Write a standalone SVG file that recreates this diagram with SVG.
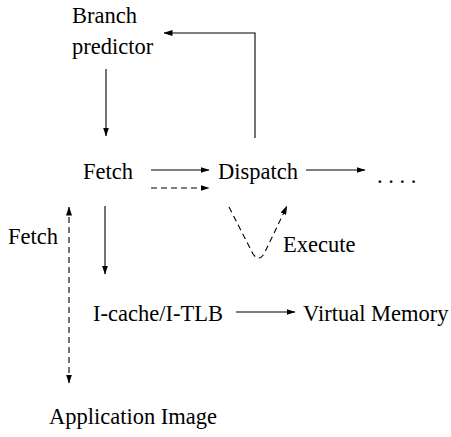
<svg xmlns="http://www.w3.org/2000/svg" width="451" height="437" viewBox="0 0 451 437">
<style>
text{font-family:"Liberation Serif","Times New Roman",serif;font-size:22.5px;fill:#000}
.c{fill:none;stroke:#000;stroke-width:1.1}
.d{stroke-dasharray:6,4}
</style>
<defs>
<marker id="ah" markerWidth="9" markerHeight="6" refX="8.5" refY="3" orient="auto" markerUnits="userSpaceOnUse">
<path d="M0,0 L9,3 L0,6 Z" fill="#000"/>
</marker>
<marker id="ahs" markerWidth="9" markerHeight="6" refX="8.5" refY="3" orient="auto-start-reverse" markerUnits="userSpaceOnUse">
<path d="M0,0 L9,3 L0,6 Z" fill="#000"/>
</marker>
</defs>
<rect width="451" height="437" fill="#fff"/>
<g id="branch"><text x="72" y="23">Branch</text><text x="72" y="54">predictor</text></g>
<g id="fetch"><text x="83" y="179">Fetch</text></g>
<g id="dispatch"><text x="218" y="179">Dispatch</text></g>
<g id="dots"><text x="377" y="183">. . . .</text></g>
<g id="fetchlabel"><text x="8" y="244">Fetch</text></g>
<g id="execute"><text x="283" y="252">Execute</text></g>
<g id="icache"><text x="93" y="321">I-cache/I-TLB</text></g>
<g id="vmem"><text x="303" y="321">Virtual Memory</text></g>
<g id="appimage"><text x="49" y="424">Application Image</text></g>
<g id="connectors">
<path class="c" d="M106,69 V136" marker-end="url(#ah)"/>
<path class="c" d="M255,138 V33 H164" marker-end="url(#ah)"/>
<path class="c" d="M151,170 H209" marker-end="url(#ah)"/>
<path class="c d" d="M151,188 H209" marker-end="url(#ah)"/>
<path class="c" d="M306,170 H365" marker-end="url(#ah)"/>
<path class="c" d="M105,206 V274" marker-end="url(#ah)"/>
<path class="c d" d="M69,207 V383" marker-start="url(#ahs)" marker-end="url(#ahs)"/>
<path class="c d" d="M229,207 L253,254 Q259,262 264,254 L287,206" marker-end="url(#ah)"/>
<path class="c" d="M236,312 H295" marker-end="url(#ah)"/>
</g>
</svg>
